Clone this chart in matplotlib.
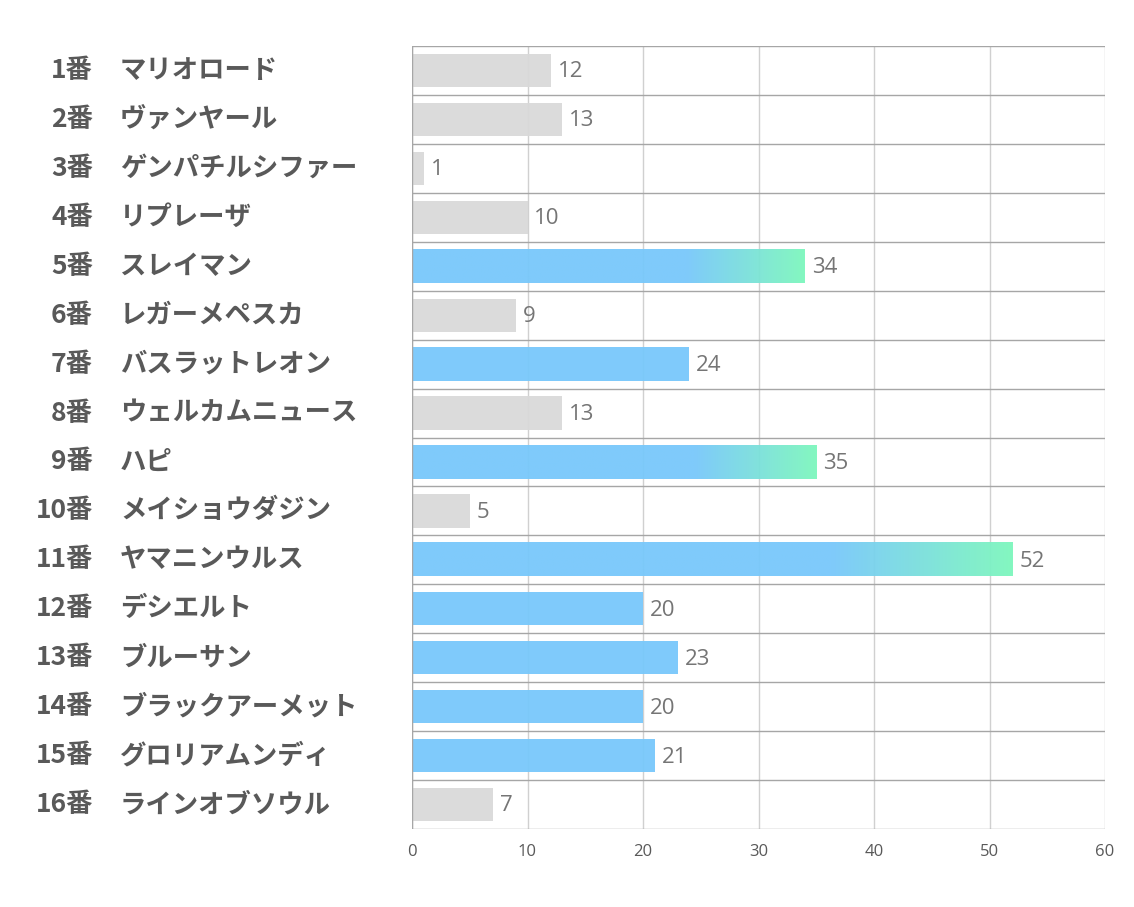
import matplotlib.pyplot as plt
import matplotlib.transforms as mtransforms
import numpy as np
from matplotlib.colors import LinearSegmentedColormap

plt.rcParams['font.family'] = ['Noto Sans CJK JP', 'DejaVu Sans']

numbers = ["1番", "2番", "3番", "4番", "5番", "6番", "7番", "8番",
           "9番", "10番", "11番", "12番", "13番", "14番", "15番", "16番"]
horses = ["マリオロード", "ヴァンヤール", "ゲンパチルシファー", "リプレーザ",
          "スレイマン", "レガーメペスカ", "バスラットレオン", "ウェルカムニュース",
          "ハピ", "メイショウダジン", "ヤマニンウルス", "デシエルト",
          "ブルーサン", "ブラックアーメット", "グロリアムンディ", "ラインオブソウル"]
values = [12, 13, 1, 10, 34, 9, 24, 13, 35, 5, 52, 20, 23, 20, 21, 7]
xticks = [0, 10, 20, 30, 40, 50, 60]

GRAY = "#d9d9d9"
BLUE = "#78c8fb"
GREEN = "#7df7bd"
TEXT = "#595959"

fig = plt.figure(figsize=(11.34, 9.07), dpi=100)
ax = fig.add_axes([412 / 1134, 1 - 829 / 907, (1105 - 412) / 1134, (829 - 46) / 907])

n = len(values)

# grid
for x in xticks:
    ax.axvline(x, color="#d0d0d0", lw=1, zorder=0)
for i in range(n + 1):
    ax.axhline(i - 0.5, color="#a6a6a6", lw=1, zorder=0)
ax.axvline(0, color="#a6a6a6", lw=1, zorder=3)

cmap = LinearSegmentedColormap.from_list(
    "bg", [(0, BLUE), (0.7, BLUE), (1.0, GREEN)])
grad = np.linspace(0, 1, 256).reshape(1, -1)

h = 0.68
for i, v in enumerate(values):
    if v >= 30:
        ax.imshow(grad, cmap=cmap, extent=(0, v, i + h / 2, i - h / 2),
                  aspect="auto", alpha=0.95, zorder=2, interpolation="bilinear")
    elif v >= 20:
        ax.barh(i, v, height=h, color=BLUE, alpha=0.95, zorder=2)
    else:
        ax.barh(i, v, height=h, color=GRAY, alpha=0.95, zorder=2)
    ax.text(v + 0.6, i + 0.03, str(v), va="center", ha="left",
            fontsize=16, color="#757575", family=["Open Sans", "DejaVu Sans"])

ax.set_xlim(0, 60)
ax.set_ylim(n - 0.5, -0.5)

ax.set_yticks([])
ax.set_xticks(xticks)
ax.set_xticklabels([str(t) for t in xticks], fontsize=12, color=TEXT,
                   family=["Liberation Sans Narrow", "Open Sans", "DejaVu Sans"])
ax.tick_params(axis="x", length=0, pad=11)
for s in ax.spines.values():
    s.set_visible(False)

trans = mtransforms.blended_transform_factory(fig.transFigure, ax.transData)
for i in range(n):
    fig.text(93 / 1134, i, numbers[i], transform=trans, ha="right", va="center",
             fontsize=19, fontweight="bold", color=TEXT)
    fig.text(120 / 1134, i, horses[i], transform=trans, ha="left", va="center",
             fontsize=19, fontweight="bold", color=TEXT)

fig.savefig("out.png", dpi=100, facecolor="white")
